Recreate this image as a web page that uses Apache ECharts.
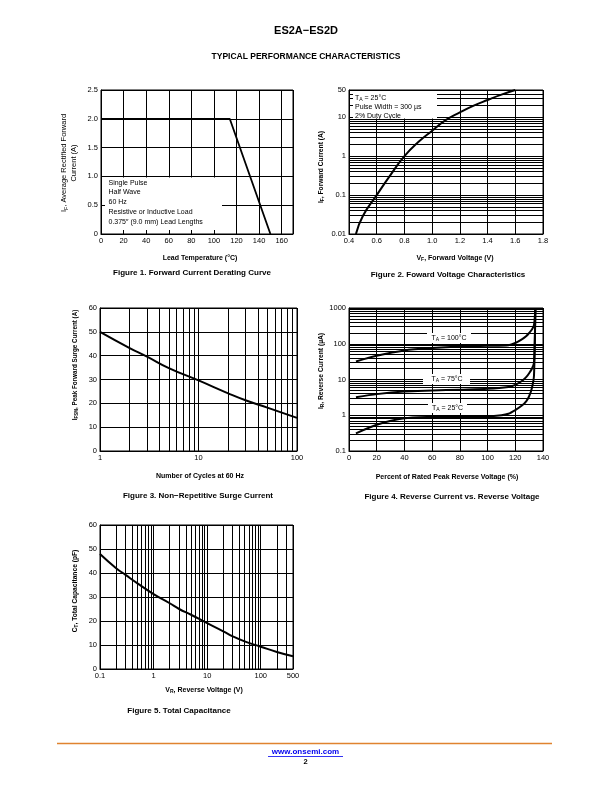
<!DOCTYPE html>
<html><head><meta charset="utf-8">
<script src="https://cdn.jsdelivr.net/npm/echarts@6/dist/echarts.min.js"></script>
<style>html,body{margin:0;padding:0;background:#fff}#c{width:612px;height:792px}</style>
</head><body><div id="c"></div>
<script>
// ---- Figure 1: Forward Current Derating Curve
const fig1Temp = [0, 114, 150];
const fig1Current = [2.0, 2.0, 0];
// ---- Figure 2: Forward Voltage Characteristics
const fig2Voltage = [0.45, 0.5, 0.6, 0.7, 0.8, 0.9, 1.0, 1.1, 1.2, 1.3, 1.4, 1.5, 1.6];
const fig2Current = [0.01, 0.029, 0.1, 0.33, 1.0, 2.3, 4.5, 8.5, 13.3, 19.8, 27.7, 38, 50];
// ---- Figure 3: Non-Repetitive Surge Current
const fig3Cycles = [1, 2, 3, 5, 10, 20, 30, 50, 100];
const fig3Current = [50, 43.2, 39.6, 34.8, 29.6, 24.2, 21.3, 18.2, 13.9];
// ---- Figure 4: Reverse Current vs Reverse Voltage
const fig4Pct25 = [5, 20, 40, 60, 80, 100, 110, 115, 120, 125, 128, 130, 132, 133.5, 134.5];
const fig4Cur25 = [0.31, 0.54, 0.82, 0.9, 0.94, 0.94, 1.0, 1.1, 1.4, 1.9, 2.5, 3.4, 5.8, 13, 1000];
const fig4Pct75 = [5, 20, 40, 60, 80, 100, 115, 120, 125, 128, 130, 132, 133.5, 134.5];
const fig4Cur75 = [3.2, 3.9, 4.6, 4.9, 5.2, 5.5, 6.2, 7.1, 9.2, 11.8, 15, 20, 30, 1000];
const fig4Pct100 = [5, 20, 40, 60, 80, 100, 115, 120, 125, 128, 130, 132, 133.5, 134.5];
const fig4Cur100 = [32, 46, 65, 76, 84, 88, 91, 105, 135, 165, 200, 250, 330, 1000];
// ---- Figure 5: Total Capacitance
const fig5Voltage = [0.1, 0.2, 0.3, 0.5, 1, 2, 3, 5, 10, 20, 30, 50, 100, 200, 400];
const fig5Cap = [47.9, 42, 39.2, 35.7, 31.2, 27.4, 25, 22.6, 19.1, 15.7, 13.6, 11.5, 9.3, 7.1, 5.3];
const fig5TickLabels = {0.1: '0.1', 1: '1', 10: '10', 100: '100', 400: '500'};

const F = '"Liberation Sans", Arial, Helvetica, sans-serif';

function logMinors(lo, hi) {
  const out = [];
  for (let e = Math.floor(Math.log10(lo)); Math.pow(10, e) < hi; e++) {
    for (let k = 2; k <= 9; k++) {
      const v = +(k * Math.pow(10, e)).toPrecision(3);
      if (v > lo && v < hi) out.push(v);
    }
  }
  return out;
}
function ax(o) {
  return Object.assign({
    axisLine: {show: true, onZero: false, lineStyle: {color: '#000', width: 1}},
    axisTick: {show: true, inside: true, length: 3, lineStyle: {color: '#000', width: 1}},
    axisLabel: Object.assign({color: '#000', fontSize: 7.5, fontFamily: F, margin: 3, showMinLabel: true, showMaxLabel: true}, o.label || {}),
    splitLine: {show: o.split !== false, lineStyle: {color: '#000', width: 1}},
    minorTick: {show: false}, minorSplitLine: {show: false}
  }, o.base);
}
function gridSeries(idx, key, values) {
  return {type: 'line', xAxisIndex: idx, yAxisIndex: idx, data: [], silent: true, z: 1,
    markLine: {silent: true, symbol: ['none', 'none'], animation: false, z: 1,
      label: {show: false}, emphasis: {disabled: true},
      lineStyle: {color: '#000', width: 1, type: 'solid'},
      data: values.map(v => ({[key]: v}))}};
}
function curve(idx, xs, ys, smooth, w) {
  return {type: 'line', xAxisIndex: idx, yAxisIndex: idx, data: xs.map((x, i) => [x, ys[i]]),
    symbol: 'none', showSymbol: false, smooth: smooth, z: 10, silent: true,
    lineStyle: {color: '#000', width: w || 2}, animation: false};
}
const logFmt = v => String(+(+v).toPrecision(2));

const grids = [
  {left: 101, top: 90, width: 192, height: 144},
  {left: 349, top: 90, width: 194, height: 144},
  {left: 100, top: 308, width: 197, height: 143},
  {left: 349, top: 308, width: 194, height: 143},
  {left: 100, top: 525, width: 193, height: 144}
].map(g => Object.assign(g, {show: true, borderColor: '#000', borderWidth: 1, backgroundColor: 'transparent', containLabel: false}));

const xAxes = [
  ax({base: {gridIndex: 0, type: 'value', min: 0, max: 170, interval: 20}, label: {formatter: v => v > 165 ? '' : String(v)}}),
  ax({base: {gridIndex: 1, type: 'value', min: 0.4, max: 1.8, interval: 0.2}, label: {formatter: v => (+v).toFixed(1)}}),
  ax({base: {gridIndex: 2, type: 'log', logBase: 10, min: 1, max: 100}, label: {formatter: logFmt}}),
  ax({base: {gridIndex: 3, type: 'value', min: 0, max: 140, interval: 20}}),
  ax({base: {gridIndex: 4, type: 'log', logBase: 10, min: 0.1, max: 400}, label: {formatter: v => {
    const r = +(+v).toPrecision(2); return fig5TickLabels[r] !== undefined ? fig5TickLabels[r] : String(r);}}})
];
const yAxes = [
  ax({base: {gridIndex: 0, type: 'value', min: 0, max: 2.5, interval: 0.5}, label: {formatter: v => v === 0 ? '0' : (+v).toFixed(1)}}),
  ax({base: {gridIndex: 1, type: 'log', logBase: 10, min: 0.01, max: 50}, label: {formatter: logFmt}}),
  ax({base: {gridIndex: 2, type: 'value', min: 0, max: 60, interval: 10}}),
  ax({base: {gridIndex: 3, type: 'log', logBase: 10, min: 0.1, max: 1000}, label: {formatter: logFmt}}),
  ax({base: {gridIndex: 4, type: 'value', min: 0, max: 60, interval: 10}})
];

const series = [
  gridSeries(1, 'yAxis', logMinors(0.01, 50)),
  gridSeries(2, 'xAxis', logMinors(1, 100)),
  gridSeries(3, 'yAxis', logMinors(0.1, 1000)),
  gridSeries(4, 'xAxis', logMinors(0.1, 400)),
  curve(0, fig1Temp, fig1Current, false, 1.8),
  curve(1, fig2Voltage, fig2Current, 0.5),
  curve(2, fig3Cycles, fig3Current, 0.5),
  curve(3, fig4Pct25, fig4Cur25, 0.25),
  curve(3, fig4Pct75, fig4Cur75, 0.25),
  curve(3, fig4Pct100, fig4Cur100, 0.25),
  curve(4, fig5Voltage, fig5Cap, 0.5)
];

// ---- text helpers
function T(x, y, text, size, bold, extra) {
  return {type: 'text', x: x, y: y, z: 60, silent: true,
    style: Object.assign({text: text, fontSize: size, fontWeight: bold ? 'bold' : 'normal', fontFamily: F,
      fill: '#000', align: 'center', verticalAlign: 'middle'}, extra || {})};
}
function richSet(size, bold) {
  return {
    m: {fontSize: size, fontWeight: bold ? 'bold' : 'normal', fontFamily: F, fill: '#000', lineHeight: size + 2},
    s: {fontSize: size * 0.72, fontWeight: bold ? 'bold' : 'normal', fontFamily: F, fill: '#000', lineHeight: size * 0.72, verticalAlign: 'bottom', padding: [0, 0, 0, 0]}
  };
}
function RT(x, y, text, size, bold, rot, extra) {
  return {type: 'text', x: x, y: y, z: 60, silent: true, rotation: rot || 0,
    style: Object.assign({text: text, rich: richSet(size, bold), align: 'center', verticalAlign: 'middle'}, extra || {})};
}
function R(x, y, w, h) {
  return {type: 'rect', z: 50, silent: true, shape: {x: x, y: y, width: w, height: h}, style: {fill: '#fff'}};
}
const V = Math.PI / 2;

const graphic = [
  T(306, 31, 'ES2A\u2212ES2D', 11, true),
  T(306, 57, 'TYPICAL PERFORMANCE CHARACTERISTICS', 8.5, true),
  // Figure 1
  R(105, 177.5, 117, 52.5),
  T(108.5, 183, 'Single Pulse', 7, false, {align: 'left'}),
  T(108.5, 192.5, 'Half Wave', 7, false, {align: 'left'}),
  T(108.5, 202, '60 Hz', 7, false, {align: 'left'}),
  T(108.5, 212, 'Resistive or Inductive Load', 7, false, {align: 'left'}),
  T(108.5, 222, '0.375\u2033 (9.0 mm) Lead Lengths', 7, false, {align: 'left'}),
  RT(69, 163, '{m|I}{s|F}{m|, Average Rectified Forward}\n{m|Current (A)}', 7.5, false, V),
  T(200, 258, 'Lead Temperature (\u00B0C)', 7, true),
  T(192, 273, 'Figure 1. Forward Current Derating Curve', 8, true),
  // Figure 2
  R(353, 91, 84, 27.5),
  RT(355, 98, '{m|T}{s|A}{m| = 25\u00B0C}', 7, false, 0, {align: 'left'}),
  T(355, 107.5, 'Pulse Width = 300 \u00B5s', 7, false, {align: 'left'}),
  T(355, 116.5, '2% Duty Cycle', 7, false, {align: 'left'}),
  RT(321, 167, '{m|I}{s|F}{m|, Forward Current (A)}', 6.7, true, V),
  RT(455, 258, '{m|V}{s|F}{m|, Forward Voltage (V)}', 7, true, 0),
  T(448, 275, 'Figure 2. Foward Voltage Characteristics', 8, true),
  // Figure 3
  RT(75, 365, '{m|I}{s|FSM}{m|, Peak Forward Surge Current (A)}', 6.3, true, V),
  T(200, 476, 'Number of Cycles at 60 Hz', 7, true),
  T(198, 496, 'Figure 3. Non\u2212Repetitive Surge Current', 8, true),
  // Figure 4
  R(427, 333, 44, 10),
  RT(449, 338, '{m|T}{s|A}{m| = 100\u00B0C}', 7, false, 0),
  R(423, 374, 47, 10),
  RT(447, 379, '{m|T}{s|A}{m| = 75\u00B0C}', 7, false, 0),
  R(428, 403, 39, 10),
  RT(447.5, 408, '{m|T}{s|A}{m| = 25\u00B0C}', 7, false, 0),
  RT(321, 371, '{m|I}{s|R}{m|, Reverse Current (\u00B5A)}', 6.7, true, V),
  T(447, 477, 'Percent of Rated Peak Reverse Voltage (%)', 7, true),
  T(452, 497, 'Figure 4. Reverse Current vs. Reverse Voltage', 8, true),
  // Figure 5
  RT(75, 591, '{m|C}{s|T}{m|, Total Capacitance (pF)}', 6.7, true, V),
  RT(204, 690, '{m|V}{s|R}{m|, Reverse Voltage (V)}', 7, true, 0),
  T(179, 711, 'Figure 5. Total Capacitance', 8, true),
  // Footer
  {type: 'line', z: 60, silent: true, shape: {x1: 57, y1: 743.5, x2: 552, y2: 743.5}, style: {stroke: '#E0832F', lineWidth: 1.6}},
  T(305.5, 752, 'www.onsemi.com', 8, true, {fill: '#0000EE'}),
  {type: 'line', z: 60, silent: true, shape: {x1: 268, y1: 756.5, x2: 343, y2: 756.5}, style: {stroke: '#0000EE', lineWidth: 0.8}},
  T(305.5, 762, '2', 7.5, true)
];

const chart = echarts.init(document.getElementById('c'), null, {renderer: 'canvas'});
chart.setOption({
  animation: false,
  backgroundColor: '#fff',
  grid: grids,
  xAxis: xAxes,
  yAxis: yAxes,
  series: series,
  graphic: graphic
});
</script></body></html>
